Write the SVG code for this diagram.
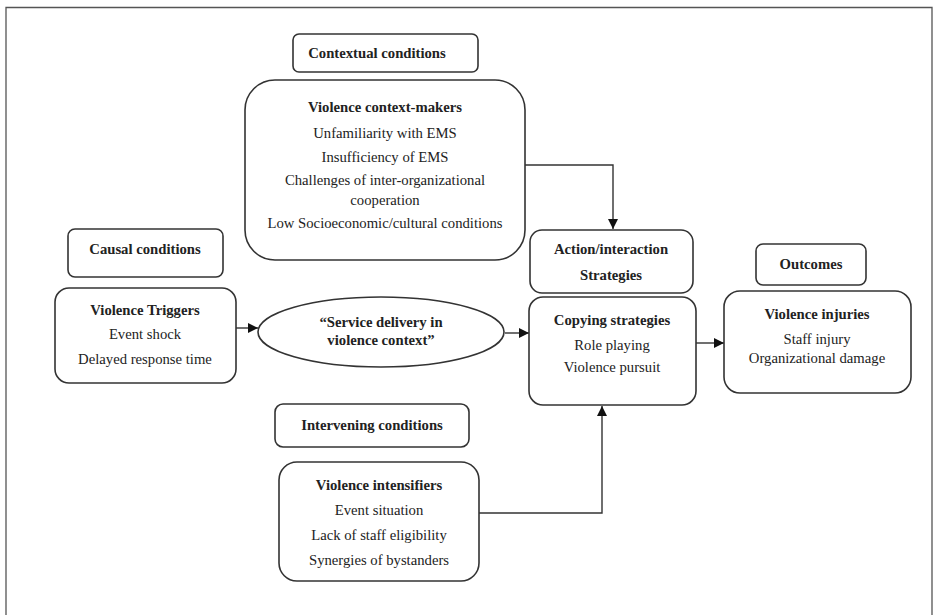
<svg xmlns="http://www.w3.org/2000/svg" width="936" height="615" viewBox="0 0 936 615">
<defs>
<marker id="ah" viewBox="0 0 10 10" refX="10" refY="5" markerWidth="10" markerHeight="10" markerUnits="userSpaceOnUse" orient="auto">
<path d="M0,0 L10,5 L0,10 z" fill="#111"/>
</marker>
<style>
.box{fill:#fff;stroke:#333;stroke-width:1.6}
.t{font-family:"Liberation Serif","Times New Roman",serif;font-size:14.7px;fill:#222;text-anchor:middle}
.b{font-weight:bold}
.ln{fill:none;stroke:#333;stroke-width:1.4}
</style>
</defs>
<rect x="0" y="0" width="936" height="615" fill="#fff"/>
<path d="M6,625 L6,7.5 L932,7.5 L932,625" fill="none" stroke="#555" stroke-width="1.3"/>

<g id="connectors">
<path class="ln" d="M525,165 L613,165 L613,229" marker-end="url(#ah)"/>
<path class="ln" d="M236,328 L258,328" marker-end="url(#ah)"/>
<path class="ln" d="M505,333 L529,333" marker-end="url(#ah)"/>
<path class="ln" d="M696,343 L724,343" marker-end="url(#ah)"/>
<path class="ln" d="M479,513 L602,513 L602,406" marker-end="url(#ah)"/>
</g>

<g id="contextual-conditions">
<rect class="box" x="293" y="34" width="185" height="38" rx="6"/>
<text class="t b" x="377" y="58">Contextual conditions</text>
</g>

<g id="context-makers">
<rect class="box" x="245" y="80" width="280" height="180" rx="30"/>
<text class="t b" x="385" y="112">Violence context-makers</text>
<text class="t" x="385" y="138">Unfamiliarity with EMS</text>
<text class="t" x="385" y="162">Insufficiency of EMS</text>
<text class="t" x="385" y="185">Challenges of inter-organizational</text>
<text class="t" x="385" y="205">cooperation</text>
<text class="t" x="385" y="228">Low Socioeconomic/cultural conditions</text>
</g>

<g id="causal-conditions">
<rect class="box" x="68" y="229" width="155" height="48" rx="7"/>
<text class="t b" x="145" y="254">Causal conditions</text>
</g>

<g id="violence-triggers">
<rect class="box" x="55" y="288" width="181" height="95" rx="14"/>
<text class="t b" x="145" y="315">Violence Triggers</text>
<text class="t" x="145" y="339">Event shock</text>
<text class="t" x="145" y="364">Delayed response time</text>
</g>

<g id="service-delivery">
<ellipse class="box" cx="381" cy="332" rx="123" ry="35"/>
<text class="t b" x="381" y="327">“Service delivery in</text>
<text class="t b" x="381" y="345">violence context”</text>
</g>

<g id="action-interaction">
<rect class="box" x="530" y="230" width="163" height="63" rx="12"/>
<text class="t b" x="611" y="254">Action/interaction</text>
<text class="t b" x="611" y="280">Strategies</text>
</g>

<g id="copying-strategies">
<rect class="box" x="529" y="297" width="167" height="108" rx="14"/>
<text class="t b" x="612" y="325">Copying strategies</text>
<text class="t" x="612" y="350">Role playing</text>
<text class="t" x="612" y="372">Violence pursuit</text>
</g>

<g id="outcomes">
<rect class="box" x="756" y="244" width="110" height="41" rx="7"/>
<text class="t b" x="811" y="269">Outcomes</text>
</g>

<g id="violence-injuries">
<rect class="box" x="724" y="291" width="187" height="102" rx="16"/>
<text class="t b" x="817" y="319">Violence injuries</text>
<text class="t" x="817" y="344">Staff injury</text>
<text class="t" x="817" y="363">Organizational damage</text>
</g>

<g id="intervening-conditions">
<rect class="box" x="275" y="404" width="194" height="43" rx="8"/>
<text class="t b" x="372" y="430">Intervening conditions</text>
</g>

<g id="violence-intensifiers">
<rect class="box" x="279" y="462" width="200" height="119" rx="18"/>
<text class="t b" x="379" y="490">Violence intensifiers</text>
<text class="t" x="379" y="515">Event situation</text>
<text class="t" x="379" y="540">Lack of staff eligibility</text>
<text class="t" x="379" y="565">Synergies of bystanders</text>
</g>
</svg>
